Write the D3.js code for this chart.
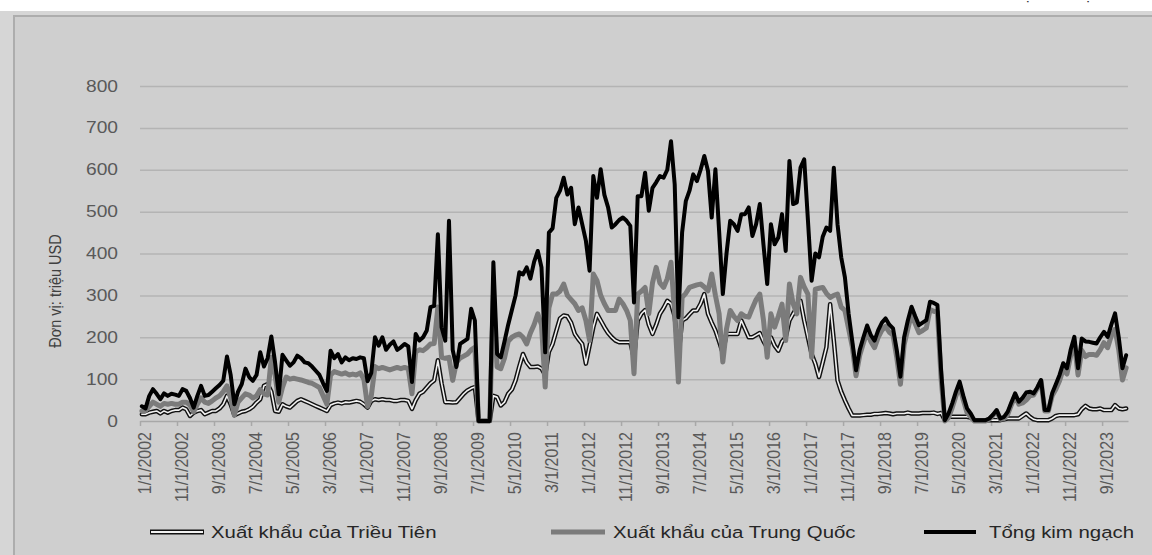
<!DOCTYPE html>
<html>
<head>
<meta charset="utf-8">
<script src="https://cdn.jsdelivr.net/npm/d3@7"></script>
<style>
  body { margin: 0; background: #fff; }
  svg { display: block; font-family: "Liberation Sans", Arial, sans-serif; }
</style>
</head>
<body>
<div id="chart"></div>
<script>
// monthly values, 1/2002 .. 3/2024 (million USD)
const totalTrade = [
  35, 30, 60, 76, 65, 52, 66, 60, 65, 63,
  60, 76, 72, 55, 32, 60, 84, 60, 62, 70,
  78, 86, 96, 154, 110, 40, 70, 88, 125, 105,
  96, 110, 164, 130, 150, 202, 140, 64, 158, 145,
  132, 140, 156, 150, 140, 138, 130, 120, 110, 90,
  72, 168, 150, 160, 140, 152, 145, 150, 148, 152,
  150, 95, 115, 200, 180, 200, 170, 182, 190, 170,
  176, 184, 178, 93, 208, 192, 200, 216, 272, 275,
  446, 224, 192, 478, 170, 129, 184, 190, 196, 268,
  240, 0, 0, 0, 0, 379, 160, 152, 190, 230,
  265, 300, 355, 350, 367, 340, 380, 406, 367, 164,
  450, 460, 533, 550, 581, 541, 557, 470, 510, 470,
  430, 359, 585, 533, 601, 540, 510, 462, 470, 480,
  486, 478, 466, 283, 537, 537, 593, 502, 557, 570,
  585, 581, 600, 668, 565, 248, 450, 525, 550, 589,
  573, 600, 633, 597, 486, 601, 454, 303, 400, 478,
  470, 454, 494, 494, 510, 442, 470, 518, 420, 327,
  470, 422, 438, 494, 406, 621, 518, 522, 605, 625,
  480, 335, 400, 391, 440, 462, 454, 605, 470, 391,
  343, 256, 190, 121, 170, 200, 228, 205, 192, 217,
  235, 245, 230, 221, 170, 106, 200, 240, 273, 250,
  229, 235, 241, 285, 282, 277, 120, 2, 18, 42,
  70, 94, 60, 30, 18, 2, 2, 2, 2, 6,
  15, 26, 6, 10, 22, 45, 66, 46, 55, 68,
  70, 66, 80, 98, 26, 26, 66, 88, 110, 138,
  126, 170, 201, 126, 197, 190, 189, 187, 185, 200,
  213, 201, 230, 257, 200, 126, 157
];

const chinaExports = [
  24, 25, 35, 45, 40, 35, 42, 40, 42, 40,
  40, 45, 45, 38, 22, 40, 55, 45, 42, 48,
  55, 60, 70, 84, 55, 14, 45, 55, 65, 62,
  55, 60, 75, 65, 62, 152, 110, 45, 80, 105,
  100, 102, 100, 98, 95, 92, 90, 85, 80, 60,
  40, 110, 118, 115, 112, 115, 110, 112, 110, 115,
  100, 35, 60, 130, 125, 128, 125, 122, 125, 128,
  125, 128, 125, 65, 165, 170, 168, 175, 184, 185,
  272, 152, 150, 152, 97, 140, 150, 155, 160, 170,
  176, 0, 0, 0, 0, 300, 129, 125, 150, 190,
  200, 205, 208, 200, 184, 210, 230, 256, 230, 81,
  270, 303, 303, 310, 327, 300, 290, 280, 264, 270,
  240, 192, 351, 335, 300, 280, 264, 264, 264, 291,
  280, 264, 240, 113, 303, 310, 319, 256, 330, 367,
  330, 319, 340, 379, 256, 93, 295, 305, 319, 322,
  325, 327, 320, 311, 351, 300, 256, 141, 220, 264,
  250, 240, 256, 250, 248, 270, 290, 303, 240, 152,
  256, 224, 250, 279, 192, 327, 280, 256, 343, 320,
  303, 152, 315, 317, 319, 305, 295, 300, 303, 272,
  264, 220, 177, 108, 157, 186, 213, 190, 175, 200,
  217, 226, 212, 205, 152, 88, 182, 220, 255, 232,
  211, 216, 222, 266, 262, 260, 101, 0, 8, 32,
  60, 84, 50, 20, 10, 0, 0, 0, 0, 4,
  13, 24, 4, 6, 16, 39, 60, 40, 43, 50,
  60, 62, 78, 96, 24, 24, 60, 76, 96, 124,
  112, 156, 187, 110, 169, 154, 159, 159, 157, 170,
  187, 175, 204, 219, 170, 98, 127
];

const nkExports = [
  16, 16, 20, 22, 24, 18, 24, 20, 24, 26,
  26, 32, 28, 12, 20, 24, 26, 16, 20, 24,
  24, 30, 40, 60, 40, 14, 18, 22, 24, 28,
  34, 44, 52, 84, 88, 70, 24, 22, 40, 35,
  32, 40, 48, 52, 48, 44, 40, 36, 32, 28,
  24, 38, 42, 44, 42, 45, 44, 46, 48, 46,
  40, 32, 48, 52, 50, 52, 50, 50, 48, 48,
  50, 50, 48, 29, 50, 65, 70, 80, 90, 97,
  145, 90, 45, 45, 44, 45, 55, 65, 73, 78,
  81, 0, 0, 0, 0, 60, 57, 37, 45, 65,
  75, 97, 130, 160, 140, 129, 129, 130, 125, 110,
  165, 184, 215, 245, 252, 250, 235, 208, 195, 184,
  137, 180, 224, 256, 240, 224, 210, 200, 192, 188,
  188, 188, 188, 150, 240, 256, 265, 230, 208, 230,
  256, 270, 287, 280, 250, 155, 240, 245, 255, 264,
  264, 280, 303, 256, 235, 216, 190, 162, 208, 208,
  208, 208, 240, 220, 200, 200, 205, 210, 190, 175,
  200, 180, 168, 190, 200, 240, 256, 270, 287, 240,
  200, 160, 137, 105, 140, 176, 279, 192, 97, 70,
  49, 30, 13, 13, 13, 14, 15, 15, 17, 17,
  18, 19, 18, 16, 18, 18, 18, 20, 18, 18,
  18, 19, 19, 19, 20, 17, 19, 2, 10, 10,
  10, 10, 10, 10, 8, 2, 2, 2, 2, 2,
  2, 2, 2, 4, 6, 6, 6, 6, 12, 18,
  10, 4, 2, 2, 2, 2, 6, 12, 14, 14,
  14, 14, 14, 16, 28, 36, 30, 28, 28, 30,
  26, 26, 26, 38, 30, 28, 30
];

// one label every 10 months
const xTickLabels = [
  "1/1/2002", "11/1/2002", "9/1/2003", "7/1/2004", "5/1/2005", "3/1/2006",
  "1/1/2007", "11/1/2007", "9/1/2008", "7/1/2009", "5/1/2010", "3/1/2011",
  "1/1/2012", "11/1/2012", "9/1/2013", "7/1/2014", "5/1/2015", "3/1/2016",
  "1/1/2017", "11/1/2017", "9/1/2018", "7/1/2019", "5/1/2020", "3/1/2021",
  "1/1/2022", "11/1/2022", "9/1/2023"
];
const yTicks = [0, 100, 200, 300, 400, 500, 600, 700, 800];
const seriesNames = ["Xuất khẩu của Triều Tiên", "Xuất khẩu của Trung Quốc", "Tổng kim ngạch"];
const yTitle = "Đơn vị: triệu USD";
const cornerNote = "Đơn vị tính: triệu USD";

const W = 1152, H = 555;
const SX = 1.2; // the source picture is stretched sideways

const svg = d3.select('#chart').append('svg')
    .attr('width', W)
    .attr('height', H);

// page + chart frame
svg.append('rect').attr('width', W).attr('height', H).attr('fill', '#fff');
svg.append('rect').attr('x', 0).attr('y', 11).attr('width', W).attr('height', H)
    .attr('fill', '#d6d6d6');
svg.append('rect').attr('x', 14).attr('y', 16).attr('width', W).attr('height', H)
    .attr('fill', '#cfcfcf').attr('stroke', '#adadad').attr('stroke-width', 2);

// note sits above the crop, only its lowest strokes show
svg.append('text')
    .attr('transform', `translate(982,0) scale(${SX},1)`)
    .attr('font-size', 13.5).attr('fill', '#333')
    .text(cornerNote);

const x = d3.scaleLinear().domain([0, totalTrade.length]).range([140, 1128]);
const y = d3.scaleLinear().domain([0, 800]).range([421, 86]);

// gridlines
const grid = svg.append('g').attr('transform', 'translate(140,0)')
    .call(d3.axisLeft(y).tickValues(yTicks.slice(1)).tickSize(-(1128 - 140)).tickFormat(''));
grid.select('.domain').remove();
grid.selectAll('line').attr('stroke', '#b4b4b4').attr('stroke-width', 1.5);

// y labels
const yAx = svg.append('g').attr('transform', 'translate(118,0)')
    .call(d3.axisLeft(y).tickValues(yTicks).tickSize(0).tickPadding(0));
yAx.select('.domain').remove();
yAx.selectAll('text')
    .attr('font-size', 16).attr('fill', '#595959')
    .attr('font-family', '"Liberation Sans", Arial, sans-serif')
    .attr('transform', `scale(${SX},1)`);

svg.append('text')
    .attr('transform', `translate(55,291) scale(${SX},1) rotate(-90)`)
    .attr('text-anchor', 'middle').attr('dy', '0.35em')
    .attr('font-size', 14.5).attr('fill', '#404040')
    .text(yTitle);

// x axis
const xAx = svg.append('g').attr('transform', 'translate(0,421)')
    .call(d3.axisBottom(x)
        .tickValues(xTickLabels.map((d, k) => k * 10))
        .tickSize(5).tickSizeOuter(0)
        .tickFormat((d, k) => xTickLabels[k]));
xAx.select('.domain').attr('stroke', '#a8a8a8').attr('stroke-width', 1.5);
xAx.selectAll('line').attr('stroke', '#a8a8a8').attr('stroke-width', 1.5);
xAx.selectAll('text')
    .attr('text-anchor', 'end')
    .attr('font-size', 16).attr('fill', '#595959')
    .attr('font-family', '"Liberation Sans", Arial, sans-serif')
    .attr('x', 0).attr('y', 0).attr('dy', '0.35em')
    .attr('transform', `translate(4,11) scale(${SX},1) rotate(-90)`);

// lines
const line = d3.line()
    .x((d, i) => x(i + 0.5))
    .y(d => y(d));

const plot = svg.append('g')
    .attr('fill', 'none')
    .attr('stroke-linejoin', 'round')
    .attr('stroke-linecap', 'round');

plot.append('path').attr('d', line(nkExports))
    .attr('stroke', '#111').attr('stroke-width', 4.5);
plot.append('path').attr('d', line(nkExports))
    .attr('stroke', '#f2f2f2').attr('stroke-width', 1.6);
plot.append('path').attr('d', line(chinaExports))
    .attr('stroke', '#7b7b7b').attr('stroke-width', 5);
plot.append('path').attr('d', line(totalTrade))
    .attr('stroke', '#000').attr('stroke-width', 4);

// legend
const legendItems = [
  { name: seriesNames[0], x0: 150, x1: 204, tx: 211 },
  { name: seriesNames[1], x0: 551, x1: 605, tx: 613 },
  { name: seriesNames[2], x0: 924, x1: 976, tx: 989 }
];
const ly = 532;
const lg = svg.append('g');
lg.append('line').attr('x1', legendItems[0].x0).attr('x2', legendItems[0].x1)
    .attr('y1', ly).attr('y2', ly).attr('stroke', '#111').attr('stroke-width', 5);
lg.append('line').attr('x1', legendItems[0].x0 + 1).attr('x2', legendItems[0].x1 - 1)
    .attr('y1', ly).attr('y2', ly).attr('stroke', '#f2f2f2').attr('stroke-width', 2);
lg.append('line').attr('x1', legendItems[1].x0).attr('x2', legendItems[1].x1)
    .attr('y1', ly).attr('y2', ly).attr('stroke', '#7b7b7b').attr('stroke-width', 5);
lg.append('line').attr('x1', legendItems[2].x0).attr('x2', legendItems[2].x1)
    .attr('y1', ly).attr('y2', ly).attr('stroke', '#000').attr('stroke-width', 4);

lg.selectAll('text.leg').data(legendItems).join('text')
    .attr('class', 'leg')
    .attr('transform', d => `translate(${d.tx},${ly}) scale(${SX},1)`)
    .attr('dy', '0.35em')
    .attr('font-size', 17).attr('fill', '#262626')
    .text(d => d.name);
</script>
</body>
</html>
